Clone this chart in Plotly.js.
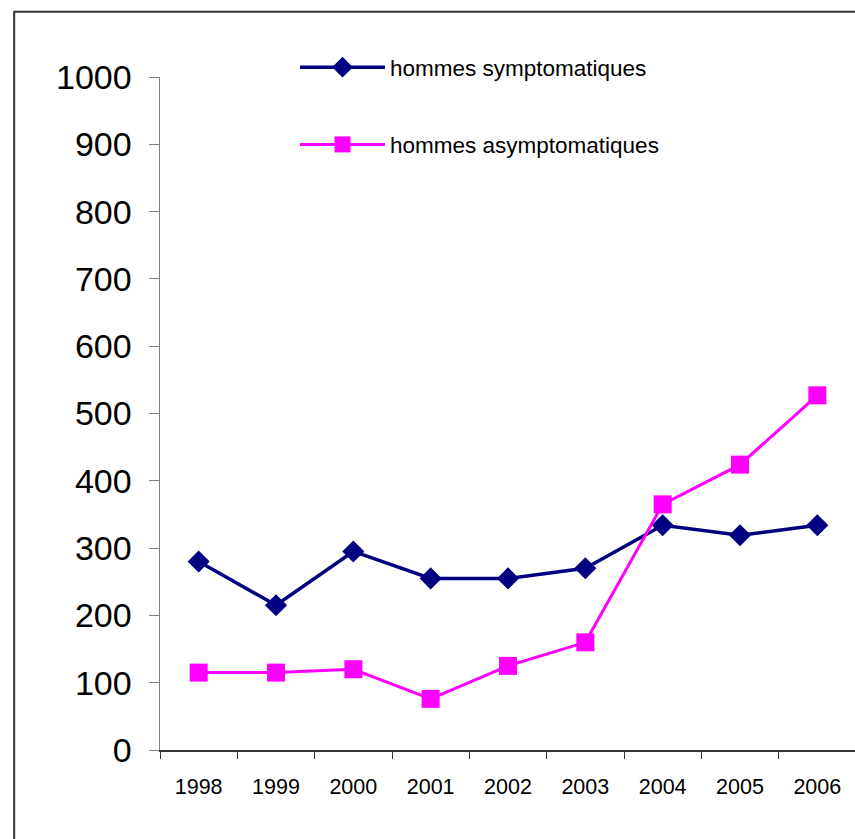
<!DOCTYPE html>
<html>
<head>
<meta charset="utf-8">
<script src="https://cdn.plot.ly/plotly-3.0.1.min.js"></script>
<style>
  html, body { margin: 0; padding: 0; background: #fff; overflow: hidden; }
  #chart { width: 856px; height: 839px; }
</style>
</head>
<body>
<div id="chart"></div>
<script>
const years = ["1998", "1999", "2000", "2001", "2002", "2003", "2004", "2005", "2006"];
const symptomatiques = [280, 215, 295, 255, 255, 270, 334, 319, 334];
const asymptomatiques = [115, 115, 120, 76, 125, 160, 365, 424, 527];
const seriesNames = ["hommes symptomatiques", "hommes asymptomatiques"];
const yTicks = [0, 100, 200, 300, 400, 500, 600, 700, 800, 900, 1000];

const traces = [
  {
    x: years, y: symptomatiques, name: seriesNames[0], type: "scatter", mode: "lines+markers",
    legendgroup: "a",
    line: { color: "#000080", width: 3.5 },
    marker: { symbol: "diamond", size: 17, color: "#000080" }
  },
  {
    x: years, y: asymptomatiques, name: seriesNames[1], type: "scatter", mode: "lines+markers",
    legendgroup: "b",
    line: { color: "#FF00FF", width: 3 },
    marker: { symbol: "square", size: 18, color: "#FF00FF" }
  }
];

const layout = {
  width: 856, height: 839,
  margin: { l: 160, r: 0, t: 77, b: 89 },
  paper_bgcolor: "#fff", plot_bgcolor: "#fff",
  font: { family: "Liberation Sans, Arial, sans-serif", color: "#000" },
  showlegend: true,
  legend: {
    x: 0.194, y: 1.046, xanchor: "left", yanchor: "top",
    bgcolor: "rgba(0,0,0,0)",
    font: { size: 22.5, color: "#000" },
    itemwidth: 85,
    tracegroupgap: 45
  },
  xaxis: {
    type: "category", range: [-0.5, 8.5],
    showgrid: false, zeroline: false,
    showline: true, linecolor: "#333", linewidth: 1.5,
    ticks: "outside", tickson: "boundaries", ticklen: 7, tickcolor: "#333", tickwidth: 1,
    tickfont: { size: 21.5, color: "#000" },
    ticklabelstandoff: 17
  },
  yaxis: {
    range: [0, 1000], tickvals: yTicks, ticktext: yTicks.map(String),
    showgrid: false, zeroline: false,
    showline: true, linecolor: "#808080", linewidth: 1.5,
    ticks: "outside", ticklen: 10, tickcolor: "#808080", tickwidth: 1,
    tickfont: { size: 34, color: "#000" },
    ticklabelstandoff: 10
  },
  shapes: [
    {
      type: "rect", xref: "paper", yref: "paper",
      x0: -0.2095, x1: 1.2, y0: -0.3, y1: 1.097,
      line: { color: "#333", width: 2 }, fillcolor: "rgba(0,0,0,0)"
    }
  ]
};

Plotly.newPlot("chart", traces, layout, { staticPlot: true, displayModeBar: false });
</script>
</body>
</html>
